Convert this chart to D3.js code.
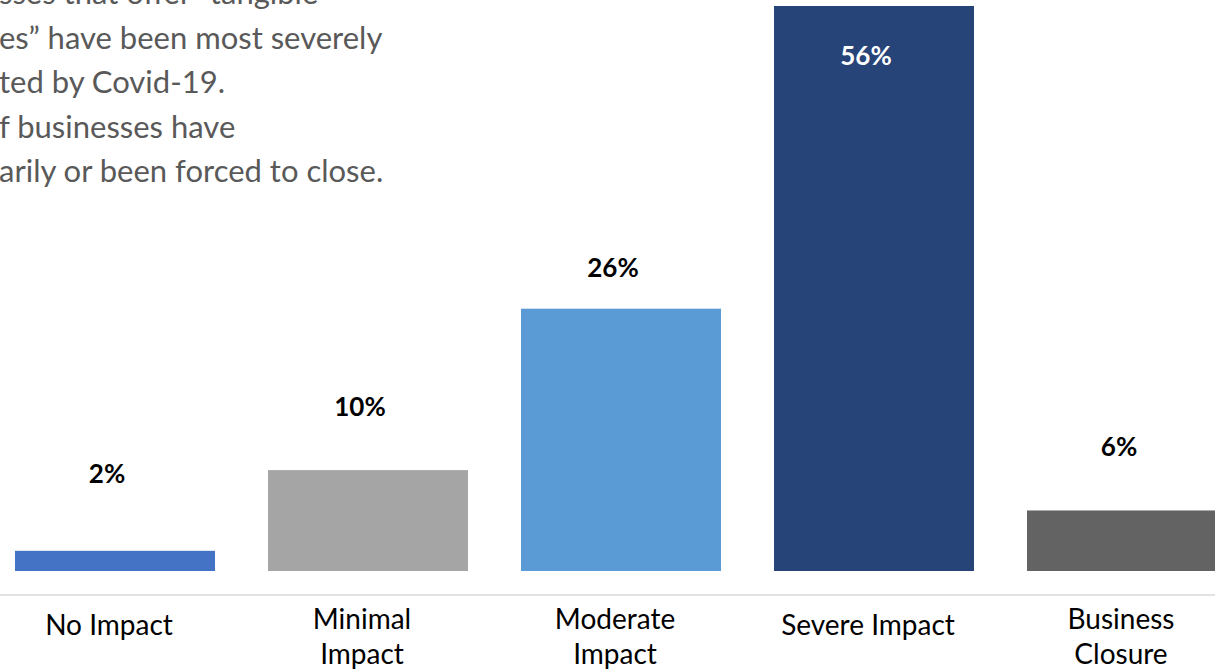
<!DOCTYPE html>
<html>
<head>
<meta charset="utf-8">
<script src="https://cdn.jsdelivr.net/npm/d3@7"></script>
<style>
  html, body { margin: 0; padding: 0; background: #ffffff; overflow: hidden; }
  svg { display: block; }
</style>
</head>
<body>
<svg id="chart" width="1215" height="670"></svg>
<script>
// ---- data ----
const categories = ["No Impact", "Minimal Impact", "Moderate Impact", "Severe Impact", "Business Closure"];
const categoryLines = [["No Impact"], ["Minimal", "Impact"], ["Moderate", "Impact"], ["Severe Impact"], ["Business", "Closure"]];
const values = [2, 10, 26, 56, 6];
const valueLabels = ["2%", "10%", "26%", "56%", "6%"];
const noteLines = [
  "sses that offer \u201Ctangible",
  "es\u201D have been most severely",
  "ted by Covid-19.",
  "f businesses have",
  "arily or been forced to close."
];

// ---- style / layout ----
const colors = ["#4472C4", "#A5A5A5", "#5B9BD5", "#264478", "#636363"];
const labelGap = [68, 54, 32, -59, 54];   // distance from bar top to label baseline
const insideLabel = [false, false, false, true, false];

const svg = d3.select("#chart");
const W = 1215, H = 670;

const x = d3.scaleBand()
  .domain(categories)
  .range([-10.3, 1252.3])
  .paddingInner(0.2095)
  .paddingOuter(0.1);

const y = d3.scaleLinear().domain([0, 56]).range([571, 6]);

// note text
const note = svg.append("text")
  .attr("font-family", "Lato, 'Open Sans', sans-serif")
  .attr("font-size", 31)
  .attr("fill", "#595959");
noteLines.forEach((t, i) => {
  note.append("tspan").attr("x", -1).attr("y", 4 + i * 44.5).text(t);
});

// bars
svg.append("g").selectAll("rect")
  .data(values)
  .join("rect")
  .attr("x", (d, i) => x(categories[i]))
  .attr("y", d => y(d))
  .attr("width", x.bandwidth())
  .attr("height", d => y(0) - y(d))
  .attr("fill", (d, i) => colors[i]);

// axis baseline
svg.append("line")
  .attr("x1", 0).attr("x2", W)
  .attr("y1", 595).attr("y2", 595)
  .attr("stroke", "#D9D9D9")
  .attr("stroke-width", 1.5);

// value labels
svg.append("g").selectAll("text")
  .data(values)
  .join("text")
  .attr("x", (d, i) => x(categories[i]) + x.bandwidth() / 2 - 8)
  .attr("y", (d, i) => y(d) - labelGap[i])
  .attr("text-anchor", "middle")
  .attr("font-family", "Lato, 'Open Sans', sans-serif")
  .attr("font-weight", "bold")
  .attr("font-size", 26)
  .attr("fill", (d, i) => insideLabel[i] ? "#ffffff" : "#000000")
  .text((d, i) => valueLabels[i]);

// category labels
const cat = svg.append("g").selectAll("text")
  .data(categories)
  .join("text")
  .attr("text-anchor", "middle")
  .attr("font-family", "Lato, 'Open Sans', sans-serif")
  .attr("font-size", 28)
  .attr("fill", "#000000");
cat.each(function(c, i) {
  const t = d3.select(this);
  const lines = categoryLines[i];
  const y0 = lines.length === 1 ? 635 : 629;
  lines.forEach((line, j) => {
    t.append("tspan")
      .attr("x", x(c) + x.bandwidth() / 2 - 6)
      .attr("y", y0 + j * 35)
      .text(line);
  });
});
</script>
</body>
</html>
